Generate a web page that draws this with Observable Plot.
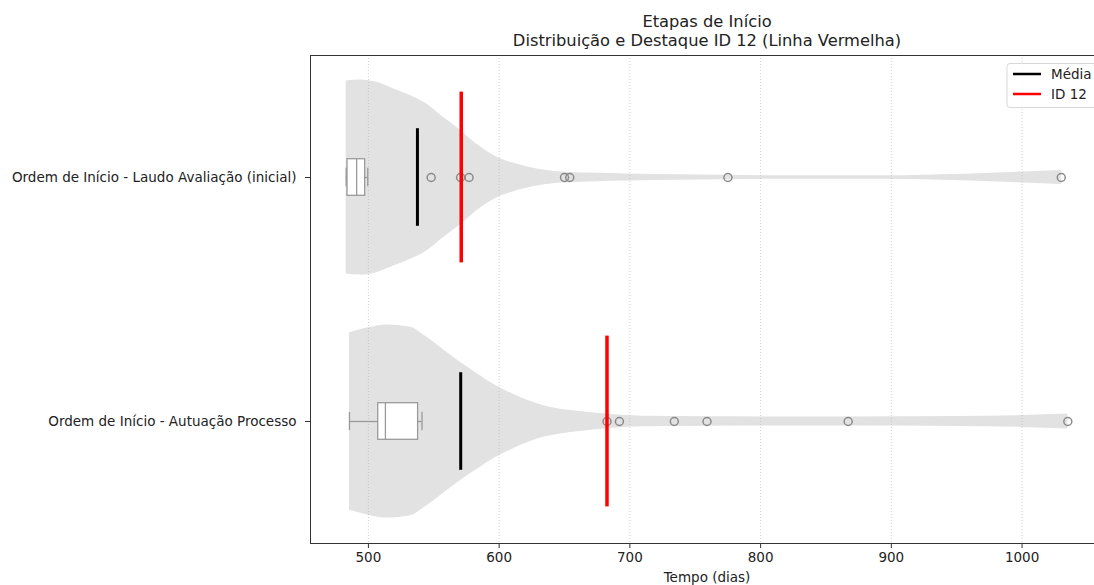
<!DOCTYPE html>
<html>
<head>
<meta charset="utf-8">
<script src="https://cdn.jsdelivr.net/npm/d3@7"></script>
<script src="https://cdn.jsdelivr.net/npm/@observablehq/plot@0.6"></script>
<style>
  html, body { margin: 0; padding: 0; background: white; overflow: hidden; }
  #chart { width: 1094px; height: 585px; }
</style>
</head>
<body>
<div id="chart"></div>
<script>
// ---- Data ----
const categories = [
  "Ordem de Início - Laudo Avaliação (inicial)",
  "Ordem de Início - Autuação Processo"
];
const xTicks = [500, 600, 700, 800, 900, 1000];

// violin profiles: value (dias) and relative density (max = 1)
const violinValues1  = [483, 494, 505, 519, 532, 545, 556, 568, 583, 598, 610, 621, 635, 647, 670, 698, 735, 773, 826, 895, 955, 1000, 1030];
const violinDensity1 = [0.99, 1.0, 0.98, 0.91, 0.84, 0.75, 0.63, 0.51, 0.34, 0.21, 0.15, 0.11, 0.075, 0.056, 0.045, 0.037, 0.029, 0.023, 0.017, 0.017, 0.033, 0.056, 0.071];
const violinValues2  = [485.5, 500, 514, 532, 545, 558, 570, 583, 596, 609, 621, 634, 660, 685, 710, 760, 800, 870, 950, 1000, 1035];
const violinDensity2 = [0.91, 0.96, 0.99, 0.966, 0.86, 0.73, 0.61, 0.493, 0.38, 0.291, 0.22, 0.162, 0.104, 0.071, 0.054, 0.049, 0.047, 0.046, 0.051, 0.061, 0.076];

// box-plot summaries
const whiskerLow  = [483, 485.5];
const q1          = [484, 507.5];
const median      = [491, 513];
const q3          = [497.5, 538];
const whiskerHigh = [499.5, 541];

// outliers
const outliers1 = [548, 570.5, 577, 650, 654, 775, 1030];
const outliers2 = [682.5, 692, 734, 759, 867, 1035];

// mean and ID 12 values
const means = [537.5, 570.6];
const id12  = [571, 682.5];

// ---- Derived tables ----
const violins = [
  ...violinValues1.map((v, i) => ({pos: 1, v, d: violinDensity1[i]})),
  ...violinValues2.map((v, i) => ({pos: 2, v, d: violinDensity2[i]}))
];
const boxes = categories.map((c, i) => ({
  pos: i + 1, lo: whiskerLow[i], q1: q1[i], med: median[i], q3: q3[i], hi: whiskerHigh[i],
  mean: means[i], id12: id12[i]
}));
const outs = [
  ...outliers1.map(v => ({pos: 1, v})),
  ...outliers2.map(v => ({pos: 2, v}))
];

const VW = 0.4, BW = 0.075, CW = 0.0375, MW = 0.2, RW = 0.35;
const boxStroke = "#9a9a9a";
const FS = 13.5;

const plot = Plot.plot({
  width: 1094,
  height: 585,
  marginLeft: 310,
  marginRight: 0,
  marginTop: 55,
  marginBottom: 42,
  style: {fontFamily: "DejaVu Sans", fontSize: FS + "px", background: "white", color: "#222"},
  x: {domain: [455.7, 1062.3], range: [310, 1103]},
  y: {domain: [0.5, 2.5], range: [55, 543]},
  marks: [
    // violins
    Plot.areaY(violins, {
      x: "v", y1: d => d.pos - VW * d.d, y2: d => d.pos + VW * d.d, z: "pos",
      fill: "#e2e2e2", curve: "monotone-x"
    }),
    // grid
    Plot.gridX(xTicks, {stroke: "#b0b0b0", strokeOpacity: 0.7, strokeDasharray: "1,2", strokeWidth: 0.8}),
    // whiskers
    Plot.ruleY(boxes, {y: "pos", x1: "lo", x2: "q1", stroke: boxStroke, strokeWidth: 1.3}),
    Plot.ruleY(boxes, {y: "pos", x1: "q3", x2: "hi", stroke: boxStroke, strokeWidth: 1.3}),
    Plot.ruleX(boxes, {x: "lo", y1: d => d.pos - CW, y2: d => d.pos + CW, stroke: boxStroke, strokeWidth: 1.3}),
    Plot.ruleX(boxes, {x: "hi", y1: d => d.pos - CW, y2: d => d.pos + CW, stroke: boxStroke, strokeWidth: 1.3}),
    // boxes
    Plot.rect(boxes, {x1: "q1", x2: "q3", y1: d => d.pos - BW, y2: d => d.pos + BW, fill: "white", stroke: boxStroke, strokeWidth: 1.3}),
    Plot.ruleX(boxes, {x: "med", y1: d => d.pos - BW, y2: d => d.pos + BW, stroke: boxStroke, strokeWidth: 1.3}),
    // outliers
    Plot.dot(outs, {x: "v", y: "pos", r: 4, stroke: "#8a8a8a", strokeWidth: 1.5, fill: "none"}),
    // mean lines
    Plot.ruleX(boxes, {x: "mean", y1: d => d.pos - MW, y2: d => d.pos + MW, stroke: "black", strokeWidth: 3}),
    // ID 12 lines
    Plot.ruleX(boxes, {x: "id12", y1: d => d.pos - RW, y2: d => d.pos + RW, stroke: "red", strokeWidth: 3.5}),
    // spines
    Plot.ruleY([0.5, 2.5], {stroke: "#333", strokeWidth: 1}),
    Plot.ruleX([455.7], {stroke: "#333", strokeWidth: 1}),
    // axes
    Plot.axisX({ticks: xTicks, tickFormat: "d", tickSize: 5, tickPadding: 4, label: null, fontSize: FS, stroke: "#333"}),
    Plot.axisY({ticks: [1, 2], tickFormat: i => categories[i - 1], tickSize: 5, tickPadding: 9, label: null, fontSize: FS, stroke: "#333"}),
    // axis label
    Plot.text(["Tempo (dias)"], {frameAnchor: "bottom", lineAnchor: "middle", dx: 4.5, dy: 34, fontSize: FS, fill: "#222"}),
    // titles
    Plot.text(["Etapas de Início"], {frameAnchor: "top", lineAnchor: "middle", dx: 4.5, dy: -33.5, fontSize: 16.3, fill: "#222"}),
    Plot.text(["Distribuição e Destaque ID 12 (Linha Vermelha)"], {frameAnchor: "top", lineAnchor: "middle", dx: 4.5, dy: -14.5, fontSize: 16.3, fill: "#222"})
  ]
});

document.getElementById("chart").appendChild(plot);

// legend
const svg = d3.select(plot);
const lg = svg.append("g").attr("font-family", "DejaVu Sans").attr("font-size", FS).attr("text-anchor", "start");
lg.append("rect").attr("x", 1007).attr("y", 63.5).attr("width", 110).attr("height", 44).attr("rx", 3)
  .attr("fill", "white").attr("fill-opacity", 0.85).attr("stroke", "#d8d8d8");
const legendItems = [["Média", "black", 74], ["ID 12", "red", 94]];
legendItems.forEach(([label, color, y]) => {
  lg.append("line").attr("x1", 1013).attr("x2", 1041).attr("y1", y).attr("y2", y)
    .attr("stroke", color).attr("stroke-width", 2.5);
  lg.append("text").attr("x", 1051).attr("y", y).attr("dy", "0.35em").attr("text-anchor", "start")
    .attr("fill", "#222").text(label);
});
</script>
</body>
</html>
